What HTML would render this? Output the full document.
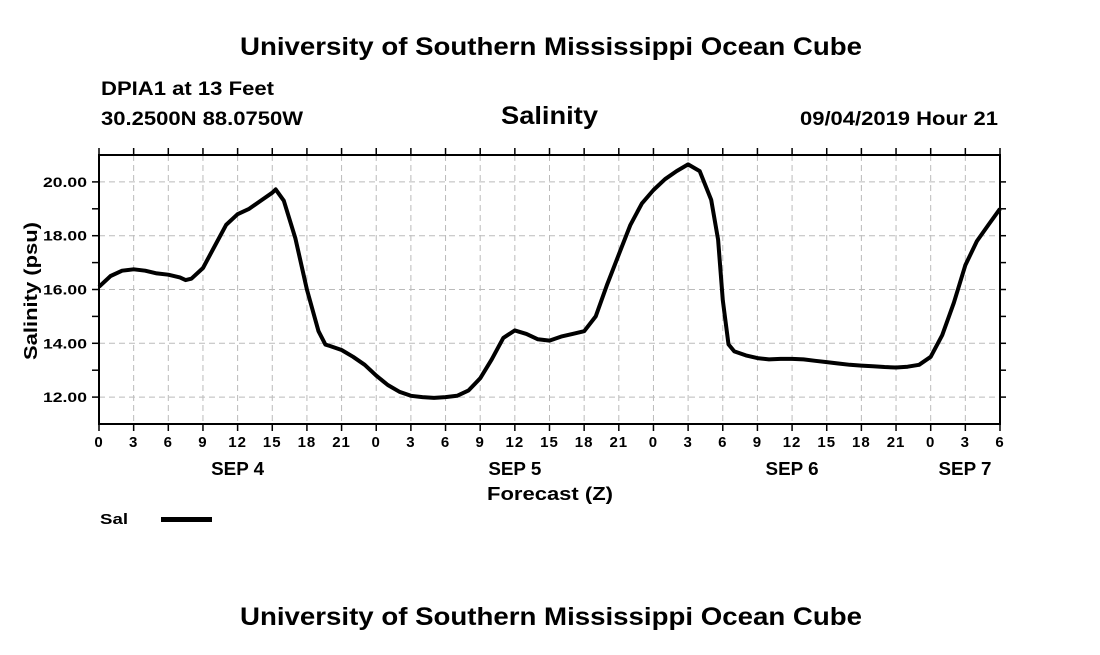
<!DOCTYPE html>
<html><head><meta charset="utf-8"><style>
body{margin:0;background:#fff;width:1100px;height:650px;overflow:hidden;font-family:"Liberation Sans",sans-serif}
</style></head><body>
<svg id="chart" width="1100" height="650" xmlns="http://www.w3.org/2000/svg" font-family="Liberation Sans, sans-serif">
<text x="240" y="55" font-size="25" font-weight="bold" textLength="622" lengthAdjust="spacingAndGlyphs">University of Southern Mississippi Ocean Cube</text>
<text x="101" y="95" font-size="19" font-weight="bold" textLength="173" lengthAdjust="spacingAndGlyphs">DPIA1 at 13 Feet</text>
<text x="101" y="125" font-size="19" font-weight="bold" textLength="202" lengthAdjust="spacingAndGlyphs">30.2500N 88.0750W</text>
<text x="501" y="124" font-size="25" font-weight="bold" textLength="97" lengthAdjust="spacingAndGlyphs">Salinity</text>
<text x="800" y="125" font-size="19" font-weight="bold" textLength="198" lengthAdjust="spacingAndGlyphs">09/04/2019 Hour 21</text>
<g id="grid"></g>
<g id="axes"></g>
<path id="line" fill="none" stroke="#000" stroke-width="4" stroke-linejoin="round"/>
<text x="487" y="500" font-size="18" font-weight="bold" textLength="126" lengthAdjust="spacingAndGlyphs">Forecast (Z)</text>
<text transform="translate(37,360) rotate(-90)" font-size="18" font-weight="bold" textLength="138" lengthAdjust="spacingAndGlyphs">Salinity (psu)</text>
<text x="100" y="524" font-size="15" font-weight="bold" textLength="28" lengthAdjust="spacingAndGlyphs">Sal</text>
<rect x="161" y="517" width="51" height="5" fill="#000"/>
<text x="240" y="625" font-size="25" font-weight="bold" textLength="622" lengthAdjust="spacingAndGlyphs">University of Southern Mississippi Ocean Cube</text>
</svg>
<script>
const hours=[0,1,2,3,4,5,6,7,7.5,8,9,10,11,12,13,14,15,15.3,16,17,18,19,19.6,20,21,22,23,24,25,26,27,28,29,30,31,32,33,34,35,36,37,38,39,40,41,42,43,44,45,46,47,48,49,50,51,52,53,53.6,54,54.5,55,56,57,58,59,60,61,62,63,64,65,66,67,68,69,70,71,72,73,74,75,76,77,78];
const salinity=[16.1,16.5,16.7,16.75,16.7,16.6,16.55,16.45,16.35,16.4,16.8,17.6,18.4,18.8,19.0,19.3,19.6,19.72,19.3,17.9,16.0,14.45,13.95,13.9,13.75,13.5,13.2,12.8,12.45,12.2,12.05,12.0,11.97,12.0,12.05,12.25,12.7,13.4,14.2,14.48,14.35,14.15,14.1,14.25,14.35,14.45,15.0,16.2,17.3,18.4,19.2,19.7,20.1,20.4,20.65,20.4,19.33,17.85,15.6,13.96,13.7,13.55,13.45,13.4,13.42,13.42,13.4,13.35,13.3,13.25,13.2,13.17,13.15,13.12,13.1,13.13,13.2,13.5,14.3,15.5,16.9,17.8,18.4,19.0];
const yTicks=[12,14,16,18,20];
const xTickHours=[0,3,6,9,12,15,18,21,24,27,30,33,36,39,42,45,48,51,54,57,60,63,66,69,72,75,78];
const dayLabels=["SEP 4","SEP 5","SEP 6","SEP 7"];
const dayLabelHours=[12,36,60,78];
const L=99,R=1000,T=155,B=424,H0=0,H1=78,Y0=11,Y1=21;
const X=h=>L+(h-H0)/(H1-H0)*(R-L);
const Y=v=>B-(v-Y0)/(Y1-Y0)*(B-T);
const NS="http://www.w3.org/2000/svg";
const grid=document.getElementById('grid'),axes=document.getElementById('axes');
function mk(tag,attrs,parent){const e=document.createElementNS(NS,tag);for(const k in attrs)e.setAttribute(k,attrs[k]);parent.appendChild(e);return e;}
xTickHours.forEach(h=>{
 if(h>0&&h<78){const g=mk('line',{x1:X(h),x2:X(h),y1:T,y2:B,stroke:'#bbb','stroke-width':1,'stroke-dasharray':'6,4'},grid);
 
 }
 const t=mk('line',{x1:X(h),x2:X(h),y1:B,y2:B+7,stroke:'#000','stroke-width':1.5},axes);
 
 
 const t2=mk('line',{x1:X(h),x2:X(h),y1:T-7,y2:T,stroke:'#000','stroke-width':1.5},axes);
 
 
 const lb=mk('text',{x:X(h),y:B+23,'text-anchor':'middle','font-size':15,'font-weight':'bold','letter-spacing':'1'},axes);
 lb.textContent=String(h%24);
 
 
});
dayLabels.forEach((d,i)=>{
 const cx=Math.min(X(dayLabelHours[i]),965);
 const lb=mk('text',{x:cx-26.5,y:B+51,'font-size':18,'font-weight':'bold',textLength:53,lengthAdjust:'spacingAndGlyphs'},axes);
 lb.textContent=d;
 
 
});
for(let v=12;v<=20;v++){
 const t=mk('line',{x1:L-7,x2:L,y1:Y(v),y2:Y(v),stroke:'#000','stroke-width':1.5},axes);
 
 
 const t2=mk('line',{x1:R,x2:R+6,y1:Y(v),y2:Y(v),stroke:'#000','stroke-width':1.5},axes);
 
 
}
yTicks.forEach(v=>{
 const g=mk('line',{x1:L,x2:R,y1:Y(v),y2:Y(v),stroke:'#bbb','stroke-width':1,'stroke-dasharray':'6,4'},grid);
 
 
 const lb=mk('text',{x:43,y:Y(v)+5,'font-size':14,'font-weight':'bold',textLength:44,lengthAdjust:'spacingAndGlyphs'},axes);
 lb.textContent=v.toFixed(2);
 
 
});
const fr=mk('rect',{x:L,y:T,width:R-L,height:B-T,fill:'none',stroke:'#000','stroke-width':2},axes);


document.getElementById('line').setAttribute('d',hours.map((h,i)=>(i?'L':'M')+X(h).toFixed(1)+','+Y(salinity[i]).toFixed(1)).join(''));
</script>
</body></html>
